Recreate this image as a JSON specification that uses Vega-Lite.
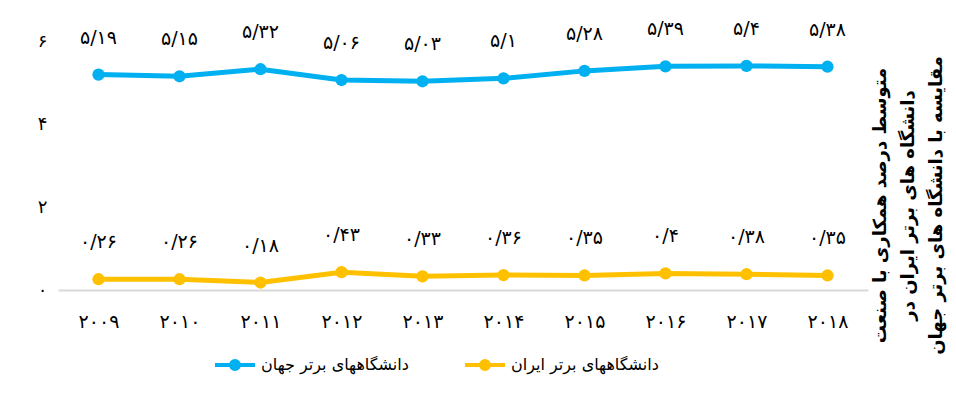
{
  "$schema": "https://vega.github.io/schema/vega-lite/v6.json",
  "width": 810,
  "height": 249,
  "autosize": {"type": "none"},
  "padding": {"left": 58, "top": 41, "right": 88, "bottom": 113},
  "background": "white",
  "config": {"view": {"stroke": null}, "font": "DejaVu Sans"},
  "data": {
    "values": [
      {"year": "۲۰۰۹", "series": "دانشگاههای برتر جهان", "value": 5.19, "label": "۵/۱۹"},
      {"year": "۲۰۱۰", "series": "دانشگاههای برتر جهان", "value": 5.15, "label": "۵/۱۵"},
      {"year": "۲۰۱۱", "series": "دانشگاههای برتر جهان", "value": 5.32, "label": "۵/۳۲"},
      {"year": "۲۰۱۲", "series": "دانشگاههای برتر جهان", "value": 5.06, "label": "۵/۰۶"},
      {"year": "۲۰۱۳", "series": "دانشگاههای برتر جهان", "value": 5.03, "label": "۵/۰۳"},
      {"year": "۲۰۱۴", "series": "دانشگاههای برتر جهان", "value": 5.1, "label": "۵/۱"},
      {"year": "۲۰۱۵", "series": "دانشگاههای برتر جهان", "value": 5.28, "label": "۵/۲۸"},
      {"year": "۲۰۱۶", "series": "دانشگاههای برتر جهان", "value": 5.39, "label": "۵/۳۹"},
      {"year": "۲۰۱۷", "series": "دانشگاههای برتر جهان", "value": 5.4, "label": "۵/۴"},
      {"year": "۲۰۱۸", "series": "دانشگاههای برتر جهان", "value": 5.38, "label": "۵/۳۸"},
      {"year": "۲۰۰۹", "series": "دانشگاههای برتر ایران", "value": 0.26, "label": "۰/۲۶"},
      {"year": "۲۰۱۰", "series": "دانشگاههای برتر ایران", "value": 0.26, "label": "۰/۲۶"},
      {"year": "۲۰۱۱", "series": "دانشگاههای برتر ایران", "value": 0.18, "label": "۰/۱۸"},
      {"year": "۲۰۱۲", "series": "دانشگاههای برتر ایران", "value": 0.43, "label": "۰/۴۳"},
      {"year": "۲۰۱۳", "series": "دانشگاههای برتر ایران", "value": 0.33, "label": "۰/۳۳"},
      {"year": "۲۰۱۴", "series": "دانشگاههای برتر ایران", "value": 0.36, "label": "۰/۳۶"},
      {"year": "۲۰۱۵", "series": "دانشگاههای برتر ایران", "value": 0.35, "label": "۰/۳۵"},
      {"year": "۲۰۱۶", "series": "دانشگاههای برتر ایران", "value": 0.4, "label": "۰/۴"},
      {"year": "۲۰۱۷", "series": "دانشگاههای برتر ایران", "value": 0.38, "label": "۰/۳۸"},
      {"year": "۲۰۱۸", "series": "دانشگاههای برتر ایران", "value": 0.35, "label": "۰/۳۵"}
    ]
  },
  "encoding": {
    "x": {
      "field": "year", "type": "nominal", "sort": null,
      "scale": {"type": "point", "padding": 0.5},
      "axis": {"title": null, "labelAngle": 0, "ticks": false, "grid": false,
        "domainColor": "#D9D9D9", "domainWidth": 2,
        "labelFontSize": 19, "labelPadding": 22, "labelColor": "#000"}
    },
    "y": {
      "field": "value", "type": "quantitative",
      "scale": {"domain": [0, 6], "nice": false},
      "axis": {
        "values": [0, 2, 4, 6], "grid": false, "domain": false, "ticks": false,
        "labelExpr": "datum.value == 0 ? '۰' : datum.value == 2 ? '۲' : datum.value == 4 ? '۴' : '۶'",
        "labelFontSize": 18, "labelPadding": 11, "labelColor": "#000",
        "title": ["متوسط درصد همکاری با صنعت", "دانشگاه های برتر ایران در", "مقایسه با دانشگاه های برتر جهان"],
        "titleX": 822, "titleY": 164, "titleAngle": 270, "titleAlign": "center",
        "titleBaseline": "middle", "titleFontSize": 18, "titleFontWeight": "bold",
        "titleLineHeight": 28, "titleColor": "#000"
      }
    },
    "color": {
      "field": "series", "type": "nominal",
      "scale": {"domain": ["دانشگاههای برتر جهان", "دانشگاههای برتر ایران"], "range": ["#00B0F0", "#FFC000"]},
      "legend": {
        "orient": "none", "legendX": 155, "legendY": 302, "direction": "horizontal", "title": null,
        "symbolType": "M-1,0L1,0M-0.2,0A0.2,0.2,0,1,1,0.2,0A0.2,0.2,0,1,1,-0.2,0Z",
        "symbolSize": 1600, "symbolStrokeWidth": 4, "labelFontSize": 16, "labelColor": "#000",
        "columnPadding": 48, "labelOffset": 4
      }
    }
  },
  "layer": [
    {"mark": {"type": "line", "strokeWidth": 5}},
    {"mark": {"type": "point", "filled": true, "size": 150, "opacity": 1}},
    {"mark": {"type": "text", "dy": -37, "fontSize": 19}, "encoding": {"text": {"field": "label"}, "color": {"value": "#000"}}}
  ]
}
